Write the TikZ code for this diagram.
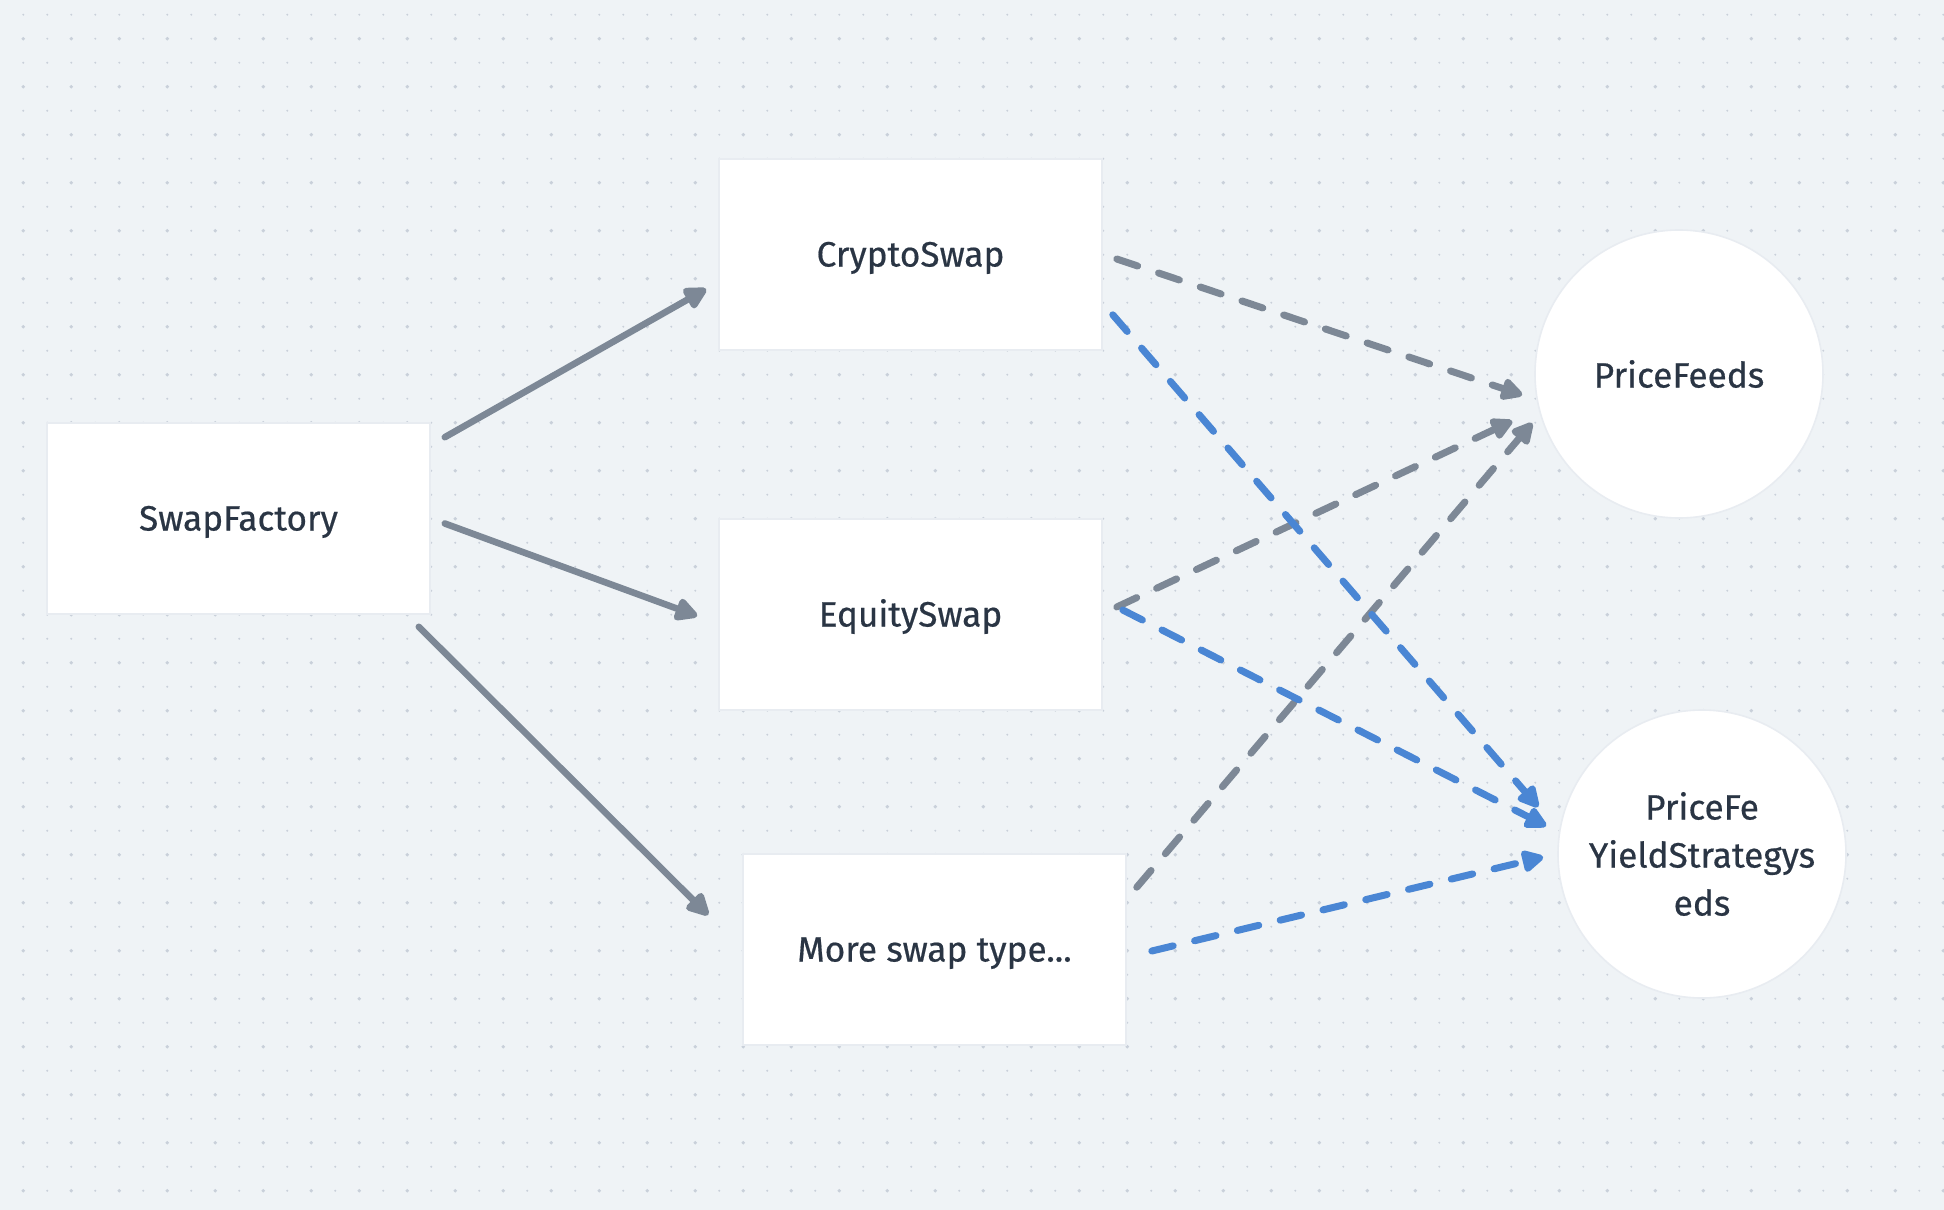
\documentclass[tikz,border=0pt]{standalone}
\usepackage{fontspec}
\setmainfont[FakeBold=0.5]{Fira Sans}
\usepackage{xcolor}
\usetikzlibrary{calc,arrows.meta}
\definecolor{bgc}{HTML}{EFF3F6}
\definecolor{dotc}{HTML}{C9D0DA}
\definecolor{linec}{HTML}{7D8896}
\definecolor{bluec}{HTML}{4A86D4}
\definecolor{textc}{HTML}{2A3544}
\definecolor{edgec}{HTML}{E8ECF1}
\tikzset{
  box/.style={fill=white, draw=edgec, line width=0.8pt, minimum width=191.5pt, minimum height=95.5pt, inner sep=0pt, text=textc, text height=12pt, text depth=0pt, font=\fontsize{17.6}{24}\selectfont},
  roundbox/.style={circle, fill=white, draw=edgec, line width=0.8pt, minimum size=144pt, inner sep=0pt, text=textc, align=center, font=\fontsize{17.6}{24}\selectfont},
  solidarrow/.style={draw=linec, line width=3.3pt, line cap=round, -{Triangle[length=13pt,width=12.5pt,round]}},
  grayflow/.style={draw=linec, line width=3.5pt, line cap=round, dash pattern=on 11pt off 11pt, -{Triangle[length=12.5pt,width=12pt,round]}},
  blueflow/.style={draw=bluec, line width=3.5pt, line cap=round, dash pattern=on 11pt off 11pt, -{Triangle[length=12.5pt,width=12pt,round]}}
}

\begin{document}
\begin{tikzpicture}[x=0.5pt,y=-0.5pt]
\fill[bgc] (0,0) rectangle (1944,1210);
\useasboundingbox (0,0) rectangle (1944,1210);
\foreach \i in {0,...,80}
  \foreach \j in {0,...,50}
    \fill[dotc] (23.3+24*\i,14.7+24*\j) circle (0.55pt);
\foreach \i in {0,...,40}
  \foreach \j in {0,...,24}
    \fill[dotc] (23.3+48*\i,38.7+48*\j) circle (0.95pt);

\node[box] (factory) at (238.5,518.5) {SwapFactory};
\node[box] (crypto) at (910.5,254.5) {CryptoSwap};
\node[box] (equity) at (910.5,614.5) {EquitySwap};
\node[box] (more) at (934.5,949.5) {More swap type...};
\node[roundbox] (feeds) at (1679,374) {PriceFeeds};
\node[roundbox] (yield) at (1702,854) {PriceFe\\YieldStrategys\\eds};

\draw[solidarrow] ($(factory.north east)+(14,15)$) -- ($(crypto.west)+(-12,34.5)$);
\draw[solidarrow] ($(factory.east)+(14,5)$) -- ($(equity.west)+(-21,1.5)$);
\draw[solidarrow] ($(factory.south east)+(-12,12)$) -- ($(more.west)+(-34,-34.5)$);

\draw[grayflow] ($(crypto.east)+(14,4.5)$) -- ($(feeds.west)+(-12,21)$);
\draw[grayflow] ($(equity.east)+(14,-7.5)$) -- ($(feeds.west)+(-22,47)$);
\draw[grayflow] ($(more.north east)+(10,34)$) -- ($(feeds.west)+(-2,49)$);

\draw[blueflow] ($(crypto.south east)+(10,-36)$) -- ($(yield.west)+(-19,-47)$);
\draw[blueflow] ($(equity.east)+(20,-4.5)$) -- ($(yield.west)+(-11,-28)$);
\draw[blueflow] ($(more.east)+(25,1.5)$) -- ($(yield.west)+(-14,3)$);
\end{tikzpicture}
\end{document}
